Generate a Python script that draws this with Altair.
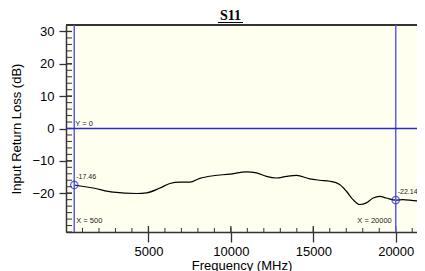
import altair as alt
import pandas as pd

# ---- data ----
freq_mhz = [500, 1655, 2867, 4285, 4890, 5700, 6300, 6900, 7515, 8120, 8930, 9940,
            10950, 11560, 12160, 12770, 13375, 13980, 14790, 15394, 16000, 16600,
            17010, 17410, 17820, 18220, 18630, 19030, 19430, 20000, 20440, 21060, 21760]
s11_db = [-17.46, -18.4, -19.7, -20.1, -19.9, -18.4, -17.0, -16.6, -16.6, -15.4, -14.6, -14.1,
          -13.4, -13.7, -14.8, -15.3, -14.8, -14.5, -15.6, -16.0, -16.3, -17.3,
          -19.4, -22.0, -23.5, -23.0, -21.5, -21.0, -21.5, -22.14, -22.0, -22.3, -22.5]

marker_freq = [500, 20000]
marker_db = [-17.46, -22.14]
marker_text = ["-17.46", "-22.14"]

x_major = [5000, 10000, 15000, 20000]
x_minor = [f for f in range(1000, 22000, 1000)]
y_major = [-20, -10, 0, 10, 20, 30]
y_minor = [v for v in range(-32, 33, 2)]

vline_freq = [500, 20000]
vline_text = ["X = 500", "X = 20000"]
hline_db = [0]

X_DOMAIN = [0, 21290]
Y_DOMAIN = [-32, 32]
W, H = 351, 207
AXIS_COLOR = "#333333"
FONT = "Liberation Sans"

xs = alt.Scale(domain=X_DOMAIN, nice=False, zero=False)
ys = alt.Scale(domain=Y_DOMAIN, nice=False, zero=False)

x_axis = alt.Axis(title="Frequency (MHz)", values=x_major, format="d",
                  tickSize=10, tickColor=AXIS_COLOR, tickWidth=1.3,
                  domainColor=AXIS_COLOR, domainWidth=1.5,
                  labelFont=FONT, labelFontSize=13, labelColor="black",
                  labelPadding=3, titleFont=FONT, titleFontSize=13,
                  titleFontWeight="normal", titleColor="black",
                  titlePadding=1, grid=False)
y_axis = alt.Axis(title="Input Return Loss (dB)", values=y_major,
                  tickSize=7, tickColor=AXIS_COLOR, tickWidth=1.3,
                  domainColor=AXIS_COLOR, domainWidth=1.5,
                  labelFont=FONT, labelFontSize=13, labelColor="black",
                  labelPadding=5, titleFont=FONT, titleFontSize=13,
                  titleFontWeight="normal", titleColor="black",
                  titlePadding=8, grid=False)

X = lambda: alt.X("freq:Q", scale=xs, axis=x_axis)
Y = lambda: alt.Y("db:Q", scale=ys, axis=y_axis)

curve_df = pd.DataFrame({"freq": freq_mhz, "db": s11_db})
marker_df = pd.DataFrame({"freq": marker_freq, "db": marker_db, "label": marker_text})
xmaj_df = pd.DataFrame({"freq": x_major})
xmin_df = pd.DataFrame({"freq": x_minor})
ymaj_df = pd.DataFrame({"db": y_major})
ymin_df = pd.DataFrame({"db": y_minor})
vline_df = pd.DataFrame({"freq": vline_freq, "label": vline_text,
                         "db": [-28.5, -28.5]})
hline_df = pd.DataFrame({"db": hline_db, "freq": [500], "label": ["Y = 0"]})

curve = alt.Chart(curve_df).mark_line(color="black", strokeWidth=1.2,
                                      interpolate="monotone", clip=True).encode(x=X(), y=Y())

# inner parts of ticks
xmaj_in = alt.Chart(xmaj_df).mark_rule(color=AXIS_COLOR, strokeWidth=1.3).encode(
    x=X(), y=alt.value(H - 6), y2=alt.value(H))
xmin_in = alt.Chart(xmin_df).mark_rule(color=AXIS_COLOR, strokeWidth=1, clip=True).encode(
    x=X(), y=alt.value(H - 4), y2=alt.value(H))
ymaj_in = alt.Chart(ymaj_df).mark_rule(color=AXIS_COLOR, strokeWidth=1.3).encode(
    y=Y(), x=alt.value(0), x2=alt.value(6))
ymin_in = alt.Chart(ymin_df).mark_rule(color=AXIS_COLOR, strokeWidth=1).encode(
    y=Y(), x=alt.value(0), x2=alt.value(6))

top_border = alt.Chart(xmaj_df).mark_rule(color=AXIS_COLOR, strokeWidth=1.5).encode(
    x=alt.value(0), x2=alt.value(W), y=alt.value(0))

vlines = alt.Chart(vline_df).mark_rule(color="#5a5af0", strokeWidth=1.5).encode(x=X())
hline = alt.Chart(hline_df).mark_rule(color="#2a2ac8", strokeWidth=1.6).encode(y=Y())

vline_lbl_left = alt.Chart(vline_df.iloc[[0]]).mark_text(
    align="left", baseline="middle", dx=2, font=FONT, fontSize=7.5, color="#222222").encode(
    x=X(), y=Y(), text="label:N")
vline_lbl_right = alt.Chart(vline_df.iloc[[1]]).mark_text(
    align="right", baseline="middle", dx=-4, font=FONT, fontSize=7.5, color="#222222").encode(
    x=X(), y=Y(), text="label:N")
hline_lbl = alt.Chart(hline_df).mark_text(
    align="left", baseline="bottom", dx=1, dy=-1, font=FONT, fontSize=7.5, color="#222222").encode(
    x=X(), y=Y(), text="label:N")

markers = alt.Chart(marker_df).mark_point(shape="circle", size=55, filled=False,
                                          color="#2a2ad0", strokeWidth=1.3).encode(x=X(), y=Y())
marker_lbls = alt.Chart(marker_df).mark_text(
    align="left", baseline="middle", dx=2, dy=-8, font=FONT, fontSize=7,
    color="#222222").encode(x=X(), y=Y(), text="label:N")

title_df = pd.DataFrame({"t": ["S11"]})
title_txt = alt.Chart(title_df).mark_text(
    font="Liberation Serif", fontSize=14, fontWeight="bold", color="black",
    align="center", baseline="middle").encode(
    text="t:N", x=alt.value(164.5), y=alt.value(-9))
title_ul = alt.Chart(title_df).mark_rule(color="black", strokeWidth=1).encode(
    x=alt.value(152), x2=alt.value(177), y=alt.value(-2.5))

chart = alt.layer(
    curve, xmaj_in, xmin_in, ymaj_in, ymin_in, top_border, vlines, hline,
    vline_lbl_left, vline_lbl_right, hline_lbl, markers, marker_lbls,
    title_txt, title_ul,
).properties(
    width=W, height=H,
    autosize=alt.AutoSizeParams(type="none"),
    padding={"left": 58, "top": 17, "right": 0, "bottom": 39},
    background="white",
).configure_view(fill="#FFFFF0", stroke=None)

chart.save("out.html", embed_options={"renderer": "svg", "actions": False})
